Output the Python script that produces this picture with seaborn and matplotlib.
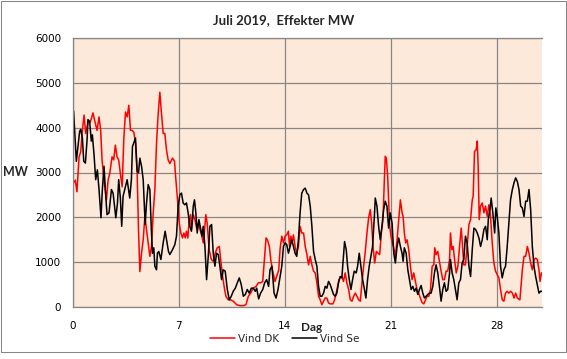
import matplotlib
matplotlib.use("Agg")
import matplotlib.pyplot as plt
from matplotlib.patches import Rectangle
import seaborn as sns
import pandas as pd

# =====================================================
# DATA
# =====================================================

title = "Juli 2019,  Effekter MW"
x_ticks = [0, 7, 14, 21, 28]
y_ticks = [0, 1000, 2000, 3000, 4000, 5000, 6000]

# Vind DK - day of month / MW
dk_day = [
    0.00, 0.15, 0.26, 0.40, 0.51, 0.62, 0.73, 0.84, 0.99, 1.15,
    1.32, 1.48, 1.59, 1.72, 1.83, 1.92, 2.05, 2.21, 2.32, 2.43,
    2.58, 2.69, 2.80, 2.91, 3.02, 3.13, 3.25, 3.36, 3.47, 3.58,
    3.69, 3.80, 3.91, 4.02, 4.13, 4.24, 4.33, 4.42, 4.53, 4.64,
    4.75, 4.86, 4.97, 5.08, 5.19, 5.30, 5.41, 5.52, 5.63, 5.74,
    5.85, 5.96, 6.07, 6.18, 6.29, 6.40,
    6.58, 6.71, 6.80, 6.89, 7.02, 7.13, 7.24, 7.33, 7.42, 7.50,
    7.59, 7.68, 7.77, 7.83, 7.95, 8.06, 8.17, 8.28, 8.39, 8.50,
    8.61, 8.70, 8.78, 8.87, 9.00, 9.14, 9.27, 9.40, 9.53, 9.67,
    9.76, 9.89, 10.02, 10.11, 10.26, 10.42, 10.59, 10.82, 11.04, 11.26,
    11.43, 11.59, 11.74, 11.92, 12.10, 12.25, 12.40, 12.54, 12.65, 12.76,
    12.85, 12.98, 13.07, 13.20, 13.35, 13.46, 13.60,
    13.69, 13.80, 13.91, 14.02, 14.13, 14.24, 14.31, 14.40, 14.48, 14.57,
    14.68, 14.79, 14.90, 15.01, 15.12, 15.24, 15.35, 15.46, 15.57, 15.68,
    15.79, 15.90, 16.01, 16.12, 16.23, 16.34, 16.45, 16.56, 16.67, 16.78,
    16.89, 17.00, 17.18, 17.29, 17.40, 17.49, 17.58, 17.66, 17.77, 17.88,
    17.99, 18.10, 18.22, 18.33, 18.44, 18.55, 18.66, 18.77, 18.88, 18.99,
    19.10, 19.21, 19.32, 19.43, 19.54, 19.65, 19.74, 19.83, 19.94, 20.05,
    20.16, 20.27, 20.38, 20.49, 20.58, 20.64, 20.71, 20.80, 20.86, 20.93,
    21.02, 21.11, 21.20, 21.31, 21.42, 21.53,
    21.64, 21.75, 21.82, 21.90, 21.99, 22.08, 22.19, 22.30, 22.41, 22.52,
    22.61, 22.74, 22.85, 22.96, 23.07, 23.19, 23.30, 23.41, 23.52, 23.63,
    23.74, 23.85, 23.91, 24.00, 24.11, 24.22, 24.33, 24.44, 24.55, 24.66,
    24.77, 24.89, 24.95, 25.04, 25.13, 25.22, 25.33, 25.44, 25.55, 25.66,
    25.75, 25.83, 25.94, 26.05, 26.17, 26.28, 26.39, 26.45, 26.54, 26.65,
    26.72, 26.78, 26.85, 26.94, 27.05, 27.16, 27.27, 27.38, 27.49, 27.60,
    27.71, 27.82, 27.93, 28.04, 28.15, 28.26, 28.37, 28.48, 28.59, 28.70,
    28.81, 28.92, 29.04, 29.15, 29.26, 29.37, 29.54, 29.70, 29.81, 29.92,
    30.03, 30.14, 30.25, 30.36, 30.47, 30.58, 30.69, 30.80, 30.87, 30.96,
    31.00,
]
dk_mw = [
    2750, 2830, 2570, 3350, 3460, 3940, 4280, 3870, 4130, 4130,
    4330, 4090, 3940, 4240, 3940, 3280, 2830, 2390, 2830, 2980,
    3350, 3280, 3610, 3350, 3280, 2980, 2680, 3760, 4350, 4240,
    4500, 3940, 3940, 3900, 3650, 2980, 1720, 790, 1200, 1500,
    2020, 1720, 1420, 1130, 1350, 2090, 2610, 3650, 4310, 4790,
    4310, 3870, 3870, 3500, 3280, 3200,
    3320, 3250, 2840, 2470, 1870, 1650, 1540, 1650, 1540, 1690,
    1540, 1950, 2060, 1730, 2060, 1950, 1760, 1870, 1730, 1610,
    1430, 1730, 2060, 1870, 1280, 1060, 1020, 1200, 1320, 1350,
    1060, 680, 390, 240, 160, 160, 130, 50, 30, 30,
    50, 240, 310, 420, 460, 540, 540, 570, 1060, 1540,
    1500, 1350, 1060, 800, 570, 680, 830,
    1300, 1580, 1430, 1580, 1610, 1690, 1350, 1580, 1430, 1610,
    1350, 1200, 1350, 1800, 1650, 1650, 1350, 1170, 940, 1130,
    940, 800, 760, 540, 240, 160, 50, 130, 200, 200,
    90, 70, 70, 160, 310, 460, 610, 650, 680, 570,
    760, 540, 390, 160, 130, 240, 310, 240, 160, 130,
    540, 910, 1240, 1650, 1990, 2170, 1870, 1350, 980, 1240,
    1200, 1170, 1650, 1950, 2840, 3360, 3320, 2910, 2390, 1800,
    1580, 1430, 1320, 1130, 1500, 1950,
    2390, 2100, 2020, 1650, 1430, 1500, 1280, 910, 610, 760,
    610, 390, 310, 200, 100, 70, 160, 240, 240, 390,
    910, 940, 1320, 1170, 1240, 1020, 800, 610, 610, 800,
    800, 1060, 1650, 1280, 1350, 1060, 760, 910, 1350, 1760,
    1350, 940, 940, 1350, 1840, 1950, 2390, 2470, 3470, 3510,
    3700, 3140, 1950, 2250, 2320, 2100, 2250, 2020, 2280, 2020,
    1430, 980, 800, 720, 650, 390, 160, 130, 310, 350,
    310, 350, 310, 200, 310, 200, 160, 830, 1130, 1130,
    1350, 1200, 980, 830, 1060, 1090, 1060, 830, 570, 760,
    760,
]

# Vind Se - day of month / MW
se_day = [
    0.00, 0.04, 0.22, 0.33, 0.44, 0.51, 0.62, 0.71, 0.82, 0.93,
    0.99, 1.10, 1.21, 1.28, 1.39, 1.50, 1.61, 1.72, 1.85, 1.94,
    2.05, 2.16, 2.25, 2.38, 2.54, 2.65, 2.83, 2.94, 3.02, 3.13,
    3.22, 3.31, 3.42, 3.58, 3.75, 3.86, 3.93, 4.02, 4.13, 4.24,
    4.33, 4.42, 4.53, 4.64, 4.77, 4.86, 4.97, 5.08, 5.17, 5.25,
    5.34, 5.41, 5.52, 5.58, 5.67, 5.81, 5.96, 6.09, 6.18, 6.31,
    6.40, 6.58, 6.73, 6.84, 6.95, 7.06, 7.17, 7.28, 7.39, 7.50,
    7.61, 7.72, 7.83, 7.95, 8.03, 8.12, 8.21, 8.32, 8.43, 8.52,
    8.61, 8.72, 8.83, 8.94, 9.05, 9.16, 9.27, 9.38, 9.49, 9.60,
    9.71, 9.82, 9.93, 10.06, 10.20, 10.33, 10.46, 10.59, 10.73, 10.86,
    10.99, 11.12, 11.26, 11.39, 11.52, 11.65, 11.79, 11.92, 12.05, 12.14,
    12.27, 12.40, 12.54, 12.67, 12.80, 12.93, 13.02, 13.15, 13.29, 13.42,
    13.55,
    13.69, 13.80, 13.91, 14.02, 14.13, 14.24, 14.35, 14.46, 14.57, 14.68,
    14.79, 14.90, 15.01, 15.12, 15.24, 15.35, 15.46, 15.57, 15.68, 15.79,
    15.90, 16.01, 16.12, 16.23, 16.34, 16.45, 16.56, 16.67, 16.78, 16.89,
    17.00, 17.11, 17.22, 17.33, 17.44, 17.55, 17.66, 17.77, 17.88, 17.95,
    18.06, 18.15, 18.26, 18.37, 18.48, 18.59, 18.72, 18.81, 18.92, 19.03,
    19.14, 19.25, 19.36, 19.47, 19.58, 19.69, 19.80, 19.92, 19.98, 20.09,
    20.20, 20.31, 20.42, 20.53, 20.64, 20.75, 20.86, 20.97, 21.09, 21.20,
    21.31, 21.42, 21.53,
    21.64, 21.75, 21.82, 21.90, 22.02, 22.13, 22.24, 22.35, 22.46, 22.57,
    22.68, 22.79, 22.90, 23.01, 23.12, 23.23, 23.34, 23.45, 23.56, 23.67,
    23.78, 23.89, 24.00, 24.11, 24.22, 24.33, 24.44, 24.55, 24.66, 24.77,
    24.89, 24.95, 25.06, 25.17, 25.28, 25.39, 25.50, 25.61, 25.72, 25.83,
    25.94, 26.05, 26.17, 26.28, 26.39, 26.50, 26.61, 26.72, 26.83, 26.94,
    27.05, 27.16, 27.27, 27.38, 27.45, 27.56, 27.64, 27.75, 27.87, 27.95,
    28.04, 28.15, 28.26, 28.37, 28.48, 28.59, 28.70, 28.81, 28.92, 29.04,
    29.15, 29.26, 29.37, 29.48, 29.59, 29.70, 29.81, 29.92, 30.03, 30.14,
    30.25, 30.36, 30.47, 30.58, 30.69, 30.80, 30.91, 31.00,
]
se_mw = [
    4365, 4370, 3250, 3580, 3920, 3960, 3770, 3250, 3210, 3730,
    4180, 4140, 3700, 3840, 3400, 2840, 3060, 2620, 1990, 2620,
    3140, 2500, 2060, 2100, 2620, 2540, 1990, 2320, 2840, 2430,
    1800, 2470, 2620, 2840, 2430, 2840, 3580, 3660, 3770, 3030,
    2990, 3320, 3140, 2840, 1840, 2320, 2730, 2620, 1800, 1200,
    1320, 910, 830, 1200, 1240, 1060, 1430, 1690, 1500, 1240,
    1170, 1280, 1390, 1580, 2250, 2500, 2540, 2320, 2280, 2320,
    2100, 1800, 1690, 2250, 2390, 2100, 1650, 1950, 1760, 1580,
    1800, 1350, 610, 1130, 1800, 1840, 1200, 910, 1200, 1170,
    910, 610, 830, 800, 390, 160, 240, 350, 420, 540,
    650, 500, 240, 280, 390, 310, 420, 420, 350, 420,
    180, 310, 390, 540, 610, 460, 830, 910, 310, 200,
    390,
    680, 910, 1350, 1430, 1390, 1200, 1350, 1500, 1350, 1200,
    1130, 1500, 2100, 2540, 2620, 2650, 2540, 2500, 2250, 1800,
    1240, 1060, 910, 460, 240, 240, 310, 460, 420, 570,
    500, 390, 280, 240, 310, 540, 680, 650, 1130, 1460,
    1280, 910, 610, 390, 610, 800, 760, 910, 1200, 910,
    610, 420, 200, 610, 910, 1130, 1350, 2020, 2430, 2250,
    1800, 1500, 1800, 2170, 2360, 2250, 1760, 2100, 1870, 1200,
    980, 1350, 1540,
    1350, 1200, 1020, 1320, 1200, 830, 610, 390, 460, 350,
    420, 280, 390, 480, 310, 200, 240, 280, 310, 310,
    460, 760, 940, 760, 460, 130, 390, 540, 350, 390,
    760, 1060, 760, 610, 390, 160, 540, 610, 980, 1060,
    1580, 1430, 910, 680, 1280, 1760, 1730, 1650, 1540, 1350,
    1500, 1730, 1800, 1500, 1950, 2170, 2430, 2100, 1650, 2210,
    2020, 1650, 910, 650, 830, 910, 1350, 1870, 2390, 2620,
    2770, 2880, 2800, 2620, 2250, 2210, 2020, 2360, 2360, 2620,
    2170, 1350, 910, 680, 500, 310, 350, 350,
]

# =====================================================
# STYLE
# =====================================================

sns.set_style("white")
plt.rcParams["font.family"] = ["DejaVu Sans"]

grid_col = "#868686"
bg_col = "#FDE9D9"

fig = plt.figure(figsize=(5.67, 3.59), dpi=100)
ax = fig.add_axes([73 / 567, 1 - 307 / 359, 469 / 567, 269 / 359])
ax.set_facecolor(bg_col)

dk = pd.DataFrame({"Dag": dk_day, "MW": dk_mw})
se = pd.DataFrame({"Dag": se_day, "MW": se_mw})

sns.lineplot(data=dk, x="Dag", y="MW", ax=ax, color="#FF0000",
             linewidth=1.1, estimator=None, sort=False, label="Vind DK")
sns.lineplot(data=se, x="Dag", y="MW", ax=ax, color="#000000",
             linewidth=1.1, estimator=None, sort=False, label="Vind Se")

ax.set_xlim(0, 31)
ax.set_ylim(0, 6000)
ax.set_xticks(x_ticks)
ax.set_yticks(y_ticks)
ax.grid(True, color=grid_col, linewidth=0.9)
ax.set_axisbelow(True)

for side in ["top", "left", "bottom"]:
    ax.spines[side].set_color(grid_col)
    ax.spines[side].set_linewidth(0.9)
ax.spines["right"].set_visible(False)

ax.tick_params(axis="both", direction="out", length=4, width=0.9,
               color=grid_col, labelsize=7.5, labelcolor="black")
ax.tick_params(axis="x", pad=6)
ax.tick_params(axis="y", pad=4.5)

# axis titles
ax.set_xlabel("Dag", family=["Lato", "DejaVu Sans"], fontweight="bold",
              fontsize=8.5)
ax.xaxis.set_label_coords((312 - 73) / 469, -(322 - 307) / 269)

ax.set_ylabel("MW", family=["Lato", "DejaVu Sans"], fontweight="bold",
              fontsize=9, rotation=0, ha="center", va="center")
ax.yaxis.set_label_coords((15.5 - 73) / 469, (307 - 172) / 269)

fig.text(0.5, 1 - 20 / 359, title, ha="center", va="center",
         family=["Lato", "DejaVu Sans"], fontweight="bold", fontsize=9.5)

# legend below the plot
handles, labels = ax.get_legend_handles_labels()
ax.get_legend().remove()
fig.legend(handles, labels, loc="center", ncol=2, frameon=False,
           bbox_to_anchor=(285 / 567, 1 - 339 / 359), fontsize=7.5,
           handlelength=2.4, handletextpad=0.3, columnspacing=1.2)

# chart border
fig.patches.append(Rectangle((0.5 / 567, 1 - 352 / 359), 565.5 / 567,
                             351 / 359, transform=fig.transFigure,
                             fill=False, edgecolor=grid_col, linewidth=0.75))

fig.savefig("out.png", dpi=100)
plt.close(fig)
